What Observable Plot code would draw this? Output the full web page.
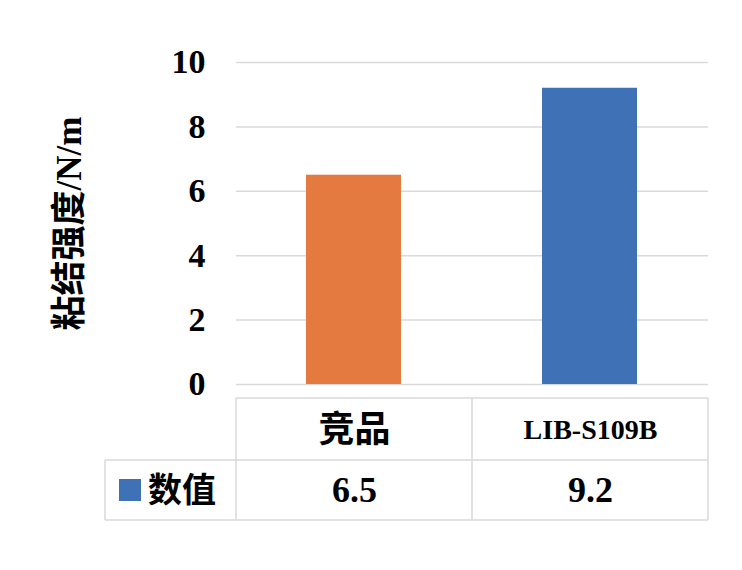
<!DOCTYPE html>
<html><head><meta charset="utf-8">
<script src="https://cdn.jsdelivr.net/npm/d3@7"></script>
<script src="https://cdn.jsdelivr.net/npm/@observablehq/plot@0.6"></script>
<style>body{margin:0;background:#fff}</style>
</head><body><div id="chart"></div>
<script>
const categories = ["竞品", "LIB-S109B"];
const values = [6.5, 9.2];
const barColors = ["#E47A40", "#3F71B7"];
const yTicks = [0, 2, 4, 6, 8, 10];
const yLabel = "粘结强度/N/m";
const seriesName = "数值";

const data = categories.map((c, i) => ({cat: c, v: values[i], col: barColors[i]}));
const serif = "'Liberation Serif', 'Noto Sans CJK SC', serif";
const cjk = "'Noto Sans CJK SC', sans-serif";
const isCJK = d => /[\u4e00-\u9fff]/.test(d);

const chart = Plot.plot({
  width: 742, height: 570,
  marginLeft: 236, marginRight: 34, marginTop: 62, marginBottom: 186,
  style: {fontFamily: serif, background: "#fff"},
  x: {domain: categories, padding: 0, axis: null},
  y: {domain: [0, 10], ticks: yTicks, label: null},
  marks: [
    Plot.gridY(yTicks, {stroke: "#d9d9d9", strokeOpacity: 1, strokeWidth: 1.5}),
    Plot.axisY(yTicks, {tickSize: 0, tickPadding: 31, fontSize: 34, fontWeight: "bold", fill: "#000", label: null, fontFamily: serif}),
    Plot.barY(data, {x: "cat", y: "v", fill: "col", insetLeft: 70, insetRight: 71}),
    Plot.text([yLabel], {frameAnchor: "left", textAnchor: "middle", dx: -167, rotate: -90, fontSize: 35, fontWeight: "bold", fill: "#000", fontFamily: serif}),
    Plot.text(categories, {x: d => d, y: 0, dy: 46, text: d => d, fontWeight: "bold", fill: "#000",
      fontSize: d => isCJK(d) ? 36 : 28,
      fontFamily: d => isCJK(d) ? cjk : serif}),
    Plot.text(data, {x: "cat", y: 0, dy: 106, text: d => d3.format(".1f")(d.v), fontSize: 36, fontWeight: "bold", fill: "#000", fontFamily: serif})
  ]
});

// table grid
const xs = chart.scale("x");
const ys = chart.scale("y");
const y0 = ys.apply(0);
const left = xs.apply(categories[0]);
const right = xs.apply(categories[categories.length - 1]) + xs.bandwidth;
const tableLeft = 105;
const rTop = y0 + 14, rMid = y0 + 76, rBot = y0 + 136;
const svg = d3.select(chart);
const g = svg.append("g").attr("stroke", "#d9d9d9").attr("stroke-width", 1.5);
g.append("line").attr("x1", left).attr("x2", right).attr("y1", rTop).attr("y2", rTop);
g.append("line").attr("x1", tableLeft).attr("x2", right).attr("y1", rMid).attr("y2", rMid);
g.append("line").attr("x1", tableLeft).attr("x2", right).attr("y1", rBot).attr("y2", rBot);
g.append("line").attr("x1", tableLeft).attr("x2", tableLeft).attr("y1", rMid).attr("y2", rBot);
categories.forEach(c => {
  const x = xs.apply(c);
  g.append("line").attr("x1", x).attr("x2", x).attr("y1", rTop).attr("y2", rBot);
});
g.append("line").attr("x1", right).attr("x2", right).attr("y1", rTop).attr("y2", rBot);
// legend key in table
const ly = (rMid + rBot) / 2;
svg.append("rect").attr("x", 119).attr("y", ly - 11).attr("width", 22).attr("height", 22).attr("fill", barColors[1]);
svg.append("text").attr("x", 148).attr("y", ly).attr("dy", "0.35em").attr("text-anchor", "start")
  .attr("font-size", 34).attr("font-weight", "bold")
  .attr("font-family", cjk).attr("fill", "#000").text(seriesName);

document.getElementById("chart").appendChild(chart);
</script></body></html>
